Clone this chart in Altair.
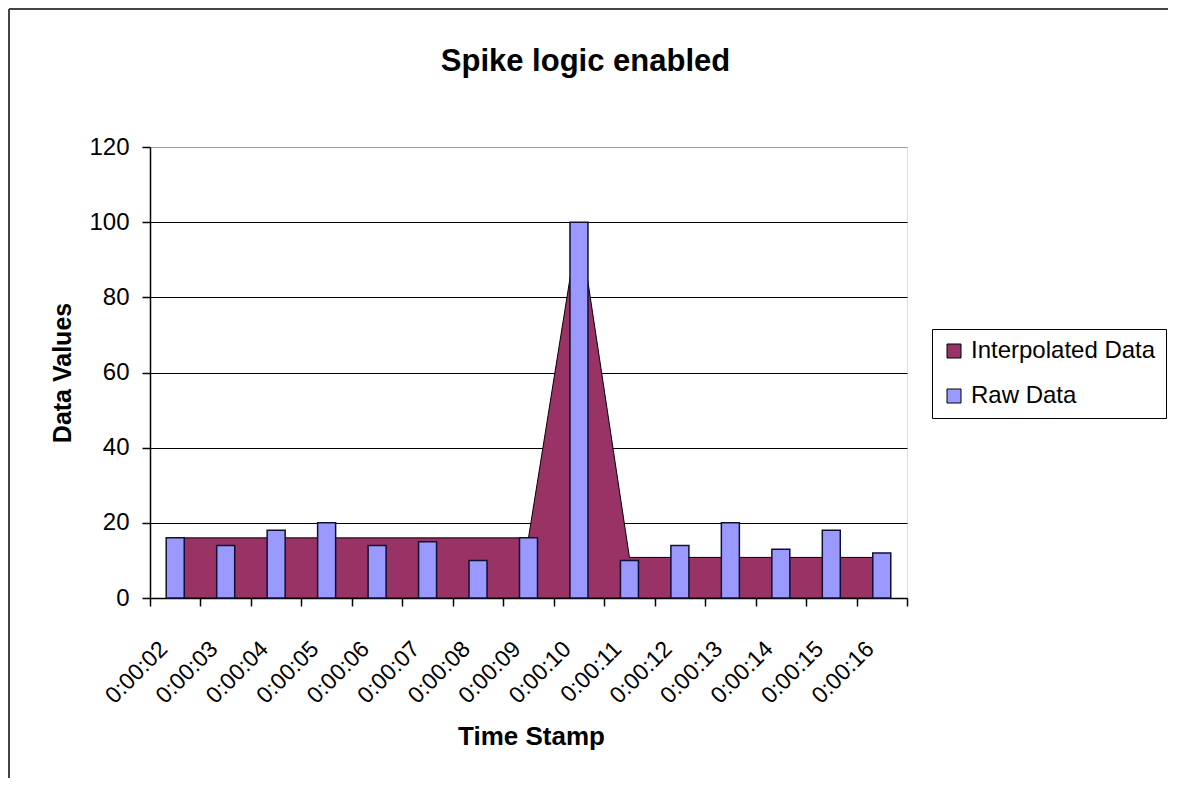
import altair as alt
import pandas as pd

# ---- data ----
times = ["0:00:02", "0:00:03", "0:00:04", "0:00:05", "0:00:06", "0:00:07", "0:00:08",
         "0:00:09", "0:00:10", "0:00:11", "0:00:12", "0:00:13", "0:00:14", "0:00:15", "0:00:16"]
interpolated = [16, 16, 16, 16, 16, 16, 16, 16, 100, 10.8, 10.8, 10.8, 10.8, 10.8, 10.8]
raw = [16, 14, 18, 20, 14, 15, 10, 16, 100, 10, 14, 20, 13, 18, 12]
series_names = ["Interpolated Data", "Raw Data"]
series_colors = ["#993366", "#9999FF"]
y_ticks = [0, 20, 40, 60, 80, 100, 120]

rows = []
for t, v in zip(times, interpolated):
    rows.append({"Time": t, "Value": v, "Series": series_names[0]})
for t, v in zip(times, raw):
    rows.append({"Time": t, "Value": v, "Series": series_names[1]})
df = pd.DataFrame(rows)

FONT = "Liberation Sans"
W, H = 757, 451
PAD_L, PAD_T, PAD_R, PAD_B = 142, 139, 261, 180

x = alt.X(
    "Time:O", sort=times,
    scale=alt.Scale(paddingInner=0, paddingOuter=0),
    axis=alt.Axis(
        title="Time Stamp", labelAngle=-45, labelAlign="right", labelBaseline="middle",
        labelFont=FONT, labelFontSize=23, labelColor="black", labelPadding=39, labelOffset=-12,
        tickBand="extent", tickSize=8, tickColor="black", tickWidth=1.5,
        domainColor="black", domainWidth=1.5, grid=False,
        titleFont=FONT, titleFontSize=26, titleFontWeight="bold", titleColor="black",
        titleX=381, titleY=138, titleAlign="center", titleBaseline="middle",
    ),
)
y = alt.Y(
    "Value:Q",
    scale=alt.Scale(domain=[0, 120], nice=False),
    axis=alt.Axis(
        values=y_ticks, title="Data Values",
        labelFont=FONT, labelFontSize=24, labelColor="black", labelPadding=13,
        tickSize=8, tickColor="black", tickWidth=1.5,
        domainColor="black", domainWidth=1.5,
        grid=True, gridWidth=1.2, gridOpacity=1,
        gridColor={"condition": {"test": "datum.value >= 120", "value": "#9a9a9a"}, "value": "black"},
        titleFont=FONT, titleFontSize=25, titleFontWeight="bold", titleColor="black",
        titleAngle=270, titleX=-88, titleY=H / 2, titleAlign="center", titleBaseline="middle",
    ),
)
color = alt.Color(
    "Series:N",
    scale=alt.Scale(domain=series_names, range=series_colors),
    legend=alt.Legend(
        title=None, orient="none", legendX=782, legendY=182,
        symbolType="square", symbolSize=196, symbolStrokeColor="black", symbolStrokeWidth=1,
        symbolOpacity=1, labelFont=FONT, labelFontSize=24, labelColor="black", labelOffset=5,
        labelLimit=0, padding=10, rowPadding=21, strokeColor="black", fillColor="white",
    ),
)

base = alt.Chart(df)
area = base.transform_filter(alt.datum.Series == series_names[0]).mark_area(
    stroke="black", strokeWidth=1, opacity=1
).encode(x=x, y=y, color=color)
bars = base.transform_filter(alt.datum.Series == series_names[1]).mark_bar(
    width=18, stroke="#101030", strokeWidth=1.5, opacity=1
).encode(x=x, y=y, color=color)

frame_df = pd.DataFrame({"k": [0]})
frame_top = alt.Chart(frame_df).mark_rule(color="#444444", strokeWidth=2).encode(
    x=alt.value(-141), x2=alt.value(W + PAD_R), y=alt.value(-138)
)
frame_left = alt.Chart(frame_df).mark_rule(color="#444444", strokeWidth=2).encode(
    x=alt.value(-141), y=alt.value(-138), y2=alt.value(H + PAD_B)
)

chart = alt.layer(area, bars, frame_top, frame_left).properties(
    width=W, height=H,
    title=alt.TitleParams(
        "Spike logic enabled", font=FONT, fontSize=31, fontWeight="bold", color="black",
        anchor="middle", dx=57, offset=-101, baseline="bottom",
    ),
    padding={"left": PAD_L, "top": PAD_T, "right": PAD_R, "bottom": PAD_B},
    autosize=alt.AutoSizeParams(type="none"),
).configure_view(
    fill="#C0C0C0", stroke="#808080", strokeWidth=1.5
).configure(background="white")

chart.save("out.html", embed_options={"renderer": "svg", "actions": False})
